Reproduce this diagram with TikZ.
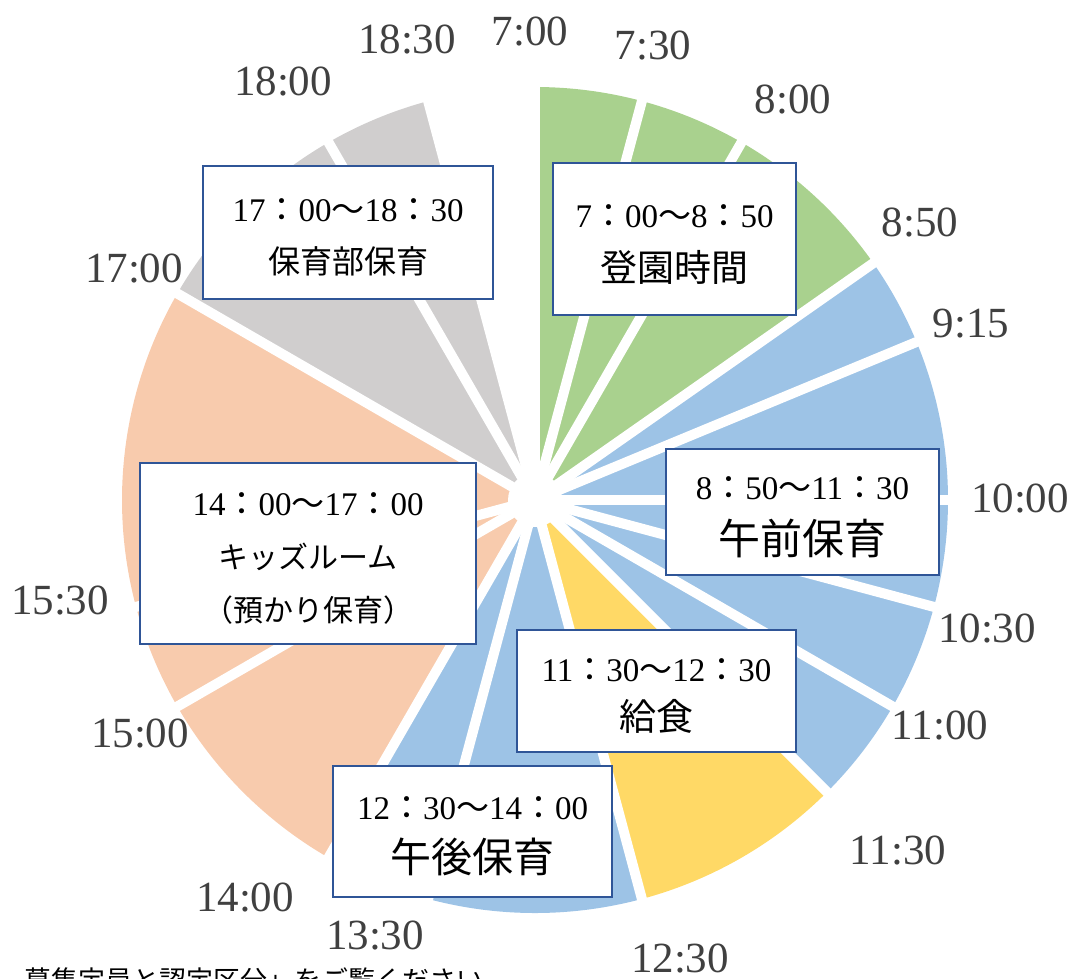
\documentclass[tikz,border=0pt]{standalone}
\usepackage{fontspec}
\setmainfont{Liberation Serif}
\newfontfamily\jp{Noto Sans CJK JP}
\definecolor{greenslot}{HTML}{A9D18E}
\definecolor{blueslot}{HTML}{9DC3E6}
\definecolor{yellowslot}{HTML}{FFD966}
\definecolor{orangeslot}{HTML}{F8CBAD}
\definecolor{grayslot}{HTML}{D0CECE}
\definecolor{frame}{HTML}{2F5597}
\definecolor{labelgray}{HTML}{404040}
% time range with full-width colon and wave dash
\newcommand{\dur}[4]{\rule{0pt}{33pt}#1{\jp ：}#2{\jp ～}#3{\jp ：}#4}
\begin{document}
\begin{tikzpicture}[x=1pt,y=-1pt,
  slot/.style={draw=frame,line width=2.7pt,fill=white,align=center,inner sep=0pt},
  hour/.style={text=labelgray,font=\fontsize{43}{43}\selectfont,inner sep=0pt}]
\useasboundingbox (0,0) rectangle (1075,978);
\coordinate (c) at (535,500);
% slices, in minutes after 7:00
\foreach \a/\b/\col in {0/30/greenslot,30/60/greenslot,60/110/greenslot,
    110/135/blueslot,135/180/blueslot,180/210/blueslot,210/240/blueslot,240/270/blueslot,
    270/330/yellowslot,330/390/blueslot,390/420/blueslot,
    420/480/orangeslot,480/510/orangeslot,510/600/orangeslot,
    600/660/grayslot,660/690/grayslot}
  \fill[\col] (c) -- ++({-90+\a/2}:413) arc[start angle={-90+\a/2}, end angle={-90+\b/2}, radius=413] -- cycle;
\foreach \m in {0,30,60,110,135,180,210,240,270,330,390,420,480,510,600,660,690}
  \draw[white,line width=10pt] (c) -- ++({-90+\m/2}:425);
\fill[white] (c) circle[radius=27];
% hour labels
\foreach \t/\x/\y [count=\i] in {7:00/530/32,7:30/653/46,8:00/793/100,8:50/920/222,
    9:15/971/324,10:00/1020/498,10:30/987/628,11:00/940/725,11:30/898/850,
    12:30/680/958,13:30/375/935,14:00/245/897,15:00/140/733,15:30/60/600,
    17:00/134/268,18:00/283/82,18:30/407/40}
  \node[hour] (h\i) at (\x,\y) {\t};
% boxes
\node[slot,minimum width=243,minimum height=152,font=\fontsize{33}{54}\selectfont] (arrival) at (674.5,239)
  {\dur{7}{00}{8}{50}\\{\jp\fontsize{37}{54}\selectfont 登園時間}};
\node[slot,minimum width=290,minimum height=133,font=\fontsize{33}{52}\selectfont] (evening) at (348,232.5)
  {\dur{17}{00}{18}{30}\\{\jp\fontsize{32}{52}\selectfont 保育部保育}};
\node[slot,minimum width=273,minimum height=126,font=\fontsize{33}{55}\selectfont] (morning) at (802.5,512)
  {\dur{8}{50}{11}{30}\\{\jp\fontsize{42}{55}\selectfont 午前保育}};
\node[slot,minimum width=336,minimum height=181,font=\fontsize{33}{53}\selectfont] (kids) at (308,553.5)
  {\dur{14}{00}{17}{00}\\{\jp\fontsize{30}{53}\selectfont キッズルーム}\\{\jp\fontsize{30}{53}\selectfont （預かり保育）}};
\node[slot,minimum width=279,minimum height=122,font=\fontsize{33}{49}\selectfont] (lunch) at (656.5,691)
  {\dur{11}{30}{12}{30}\\{\jp\fontsize{37}{49}\selectfont 給食}};
\node[slot,minimum width=279,minimum height=131,font=\fontsize{33}{53}\selectfont] (afternoon) at (472.5,831.5)
  {\dur{12}{30}{14}{00}\\{\jp\fontsize{41}{53}\selectfont 午後保育}};
\node[anchor=base west,inner sep=0pt,font=\jp\fontsize{27}{27}\selectfont] (note) at (24,990)
  {募集定員と認定区分」をご覧ください};
\end{tikzpicture}
\end{document}
